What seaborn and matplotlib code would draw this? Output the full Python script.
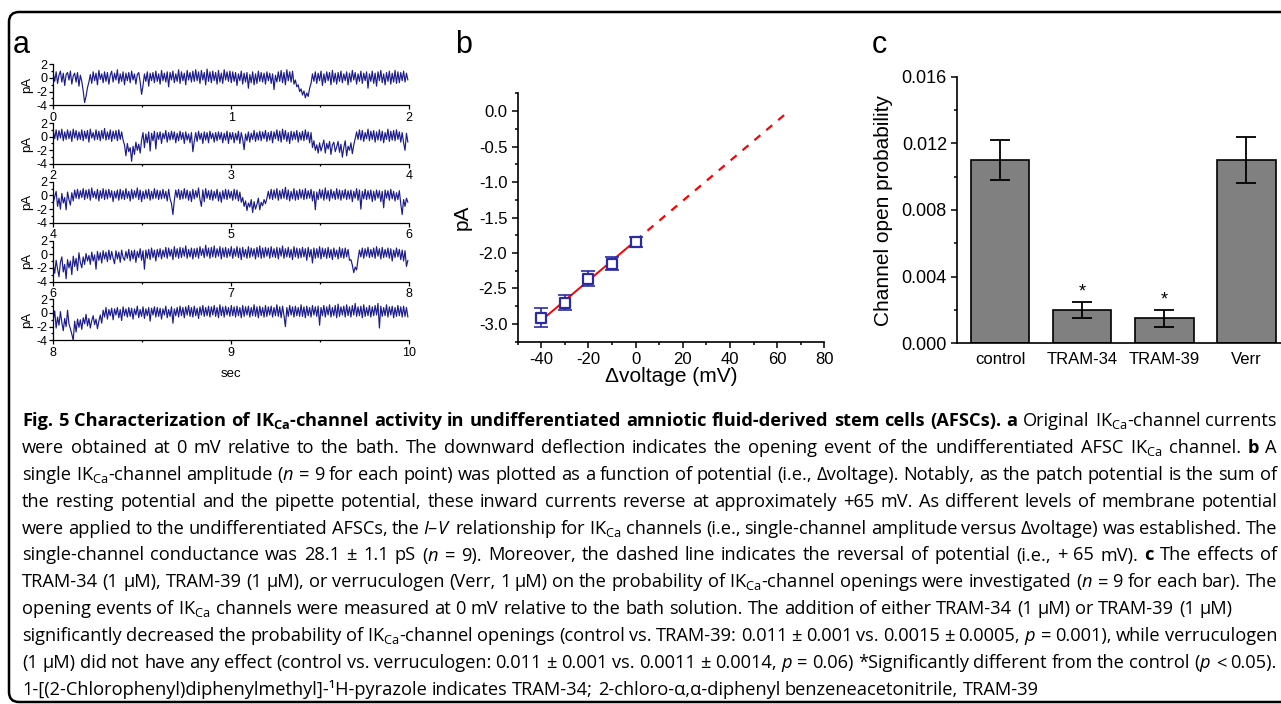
## Fig. 5 - IKCa channel activity in AFSCs (three panels + caption)

import numpy as np
import pandas as pd
import matplotlib
matplotlib.use('Agg')
import matplotlib.pyplot as plt
import seaborn as sns
from matplotlib.patches import FancyBboxPatch
from matplotlib.transforms import IdentityTransform
from matplotlib.ticker import MultipleLocator, FormatStrFormatter

# ---- panel a: single-channel current traces (pA) ----
# each sweep is 2 s long; rows below are 0.2 s of readings each
trace_start = [0, 2, 4, 6, 8]      # sec

trace_1 = [0.6,-0.5,0.9,-0.8,0.4,1.0,-0.6,0.7,-1.1,0.5,0.8,-0.3,1.0,-0.9,0.3,0.7,-0.6,0.8,-1.2,0.4,-0.5,-1.9,-3.6,-2.7,-1.4,
           -0.6,0.5,-0.8,0.9,-0.4,0.7,-1.0,1.1,-0.2,0.6,-0.7,0.9,-0.5,0.8,-0.9,0.4,1.0,-0.6,0.7,-0.3,1.2,-0.8,0.6,-0.5,0.9,
           -1.0,0.7,-0.4,0.8,-0.7,1.0,-0.3,0.6,-0.9,0.5,0.8,-0.6,-2.4,-1.1,0.6,-0.5,0.9,-1.2,0.7,-0.4,0.8,-0.7,1.0,-0.5,0.6,
           -0.9,1.1,-0.4,0.7,-0.6,0.9,-1.3,0.8,-0.3,1.0,-0.7,0.6,-0.5,1.2,-0.8,0.9,-0.4,0.7,-1.0,1.1,-0.3,0.8,-0.6,1.0,-0.5,
           1.2,-0.4,0.9,-0.8,1.1,-0.3,0.8,-1.0,1.3,-0.5,0.9,-0.7,1.0,-0.4,0.8,-0.9,1.1,-0.6,0.7,-0.8,1.2,-0.3,0.9,-0.5,1.0,
           -0.7,0.9,-0.5,0.8,-1.1,0.6,-0.4,1.0,-0.9,0.7,-0.6,0.8,-1.5,0.5,-0.7,0.9,-1.0,0.6,-0.8,1.0,-0.5,0.8,-0.6,0.7,-0.9,
           0.9,-0.4,0.7,-0.8,0.6,-1.7,0.4,-0.6,0.9,-0.5,1.1,-0.7,0.8,-1.0,1.2,-0.4,0.9,-0.6,1.0,-0.9,-0.3,-1.3,-1.0,-2.0,-1.6,
           -2.5,-1.9,-2.9,-2.2,-2.7,-1.5,-0.8,0.6,-0.5,0.9,-0.8,0.7,-0.4,1.0,-1.1,0.6,-0.7,0.9,-0.4,0.8,-1.0,1.1,-0.6,0.7,-0.9,
           0.8,-0.5,1.0,-0.7,0.6,-0.4,0.9,-1.0,0.7,-0.6,1.1,-0.3,0.8,-0.9,0.6,-0.5,1.0,-0.8,0.7,-0.4,0.9,-1.5,0.6,-0.5,1.0,
           -0.8,0.7,-1.2,0.9,-0.4,1.1,-0.7,0.6,-1.0,0.8,-0.5,1.0,-0.9,0.7,-0.6,1.1,-0.8,0.9,-0.7,0.8,-0.4,1.0,-0.6,0.7,-0.3]
trace_2 = [0.8,-0.3,1.0,-0.5,0.9,-0.2,1.1,-0.6,0.7,-0.4,1.0,-0.3,0.8,-0.7,1.1,-0.2,0.9,-0.5,0.7,-0.4,1.0,-0.6,0.8,-0.3,0.9,
           -0.8,1.1,-0.2,0.6,-0.5,1.0,-0.4,0.8,-0.6,0.9,-0.3,1.2,-0.5,0.7,-0.4,1.0,-0.7,0.8,-0.3,0.9,-0.6,1.0,-0.4,0.7,-0.5,
           -1.2,-2.8,-1.0,-2.2,-1.6,-3.6,-1.4,-2.6,-0.8,-2.0,-1.1,-2.4,-0.5,0.6,-1.6,0.4,-0.9,0.7,-2.1,0.5,-0.6,0.8,-1.8,0.6,-0.4,
           0.7,-1.0,0.5,-0.3,0.9,-0.8,0.6,-0.5,0.8,-0.4,0.7,-0.9,0.5,-0.6,0.8,-0.4,0.6,-1.0,0.7,-0.5,0.4,-0.9,0.6,-2.2,-0.7,
           0.6,-0.7,0.8,-0.4,0.5,-1.0,0.7,-0.5,0.6,-0.9,0.8,-0.3,0.5,-0.8,0.6,-0.6,0.7,-0.4,0.6,-0.9,0.5,-0.5,0.8,-1.0,0.6,
           -0.4,0.6,-0.9,0.5,-0.5,0.8,-1.0,0.6,-0.4,-1.9,0.4,-0.6,0.7,-0.8,0.5,-0.4,0.9,-0.7,0.6,-0.5,0.8,-0.6,0.7,-0.3,0.9,
           -0.7,0.6,-0.5,0.8,-0.9,0.7,-0.3,1.0,-0.6,0.8,-0.8,1.1,-0.4,0.9,-0.7,0.6,-1.0,0.8,-0.5,0.7,-0.4,0.9,-0.8,0.6,-0.5,
           0.8,-0.6,1.0,-0.4,0.7,-0.9,0.6,-1.6,-0.6,-2.0,-1.2,-2.4,-0.9,-2.1,-1.3,-0.5,-2.4,-1.0,-1.8,-0.7,-2.6,-1.2,-0.8,-2.2,-1.5,
           -0.7,-2.3,-1.1,-3.0,-1.6,-0.6,-2.8,-1.4,-2.0,-0.9,-2.5,-1.2,-0.3,0.7,-0.4,1.0,-0.5,0.9,-0.7,0.6,-0.3,1.1,-0.6,0.8,-0.4,
           0.9,-0.8,0.7,-0.5,1.0,-0.6,0.8,-0.9,0.6,-0.4,1.1,-0.7,0.8,-0.5,0.9,-0.6,1.0,-0.4,0.7,-0.8,0.6,-0.9,-2.0,0.5,-0.8]
trace_3 = [-1.0,-0.2,0.6,-1.6,-0.4,-2.0,0.3,-1.1,-0.3,-2.1,0.5,-0.6,-1.4,0.4,-0.8,0.8,-0.4,0.9,-0.5,0.7,-0.3,1.0,-0.6,0.8,-0.4,
           0.9,-0.7,1.1,-0.3,0.6,-0.5,0.9,-0.8,0.7,-0.4,1.0,-0.6,0.8,-0.5,0.9,-0.3,0.7,-0.9,0.6,-0.4,0.8,-0.7,0.9,-0.5,0.7,
           -0.6,1.0,-0.4,0.6,-0.8,0.9,-0.5,0.7,-0.3,1.1,-0.6,0.8,-0.9,0.6,-0.5,0.8,-0.4,0.9,-0.7,0.6,-0.5,1.0,-0.4,0.8,-0.6,
           0.7,-0.5,0.9,-0.4,0.6,-0.8,0.9,-0.5,-1.2,-2.8,-0.7,0.8,-0.3,0.9,-0.6,0.7,-0.5,1.0,-0.4,0.8,-0.7,0.6,-0.9,0.9,-0.5,
           0.7,-0.3,1.1,-0.6,-1.6,0.8,-0.9,1.0,-0.4,0.7,-0.6,0.8,-0.7,0.6,-0.4,0.9,-0.8,0.5,-1.0,0.7,-0.5,0.9,-0.6,0.8,-0.4,
           0.6,-0.7,0.9,-0.5,0.8,-0.8,0.5,-1.0,-0.3,-1.6,-0.8,-2.2,-1.1,-1.7,-0.6,-2.5,-0.9,-2.0,-1.3,-0.4,-2.1,-1.0,-1.5,-0.6,-1.2,
           -0.4,0.6,-0.5,0.9,-0.6,0.8,-0.4,1.0,-0.7,0.7,-0.5,0.9,-0.4,1.2,-0.6,0.8,-0.8,0.6,-0.5,1.0,-0.7,0.7,-0.6,0.9,-0.4,
           0.8,-0.6,1.0,-0.5,0.7,-0.4,0.9,-0.8,0.6,-2.1,0.5,-0.6,0.9,-0.4,0.8,-0.7,1.1,-0.5,0.7,-0.8,0.9,-0.4,0.6,-0.6,1.0,
           -0.5,0.8,-0.7,0.7,-0.4,0.9,-0.6,0.7,-0.5,0.8,-0.9,0.6,-0.4,1.0,-0.7,0.8,-2.0,0.6,-0.5,0.9,-0.6,0.7,-0.5,0.8,-0.9,
           0.6,-0.7,0.8,-0.4,0.7,-0.9,0.6,-1.8,0.8,-0.4,0.7,-0.7,0.9,-0.5,0.6,-0.8,0.4,-0.6,0.7,-1.2,-2.8,-0.6,-1.6,-0.4,-1.0]
trace_4 = [-1.6,-2.8,-0.9,-2.2,-3.3,-1.2,-0.4,-2.6,-1.5,-3.6,-0.8,-2.0,-1.0,-3.0,-0.3,-1.8,-0.6,-2.4,0.2,-1.2,-2.0,-0.4,-1.5,0.1,-1.0,
           -0.2,-1.5,0.3,-1.0,-0.1,-2.2,0.4,-0.9,0.2,-1.3,0.5,-0.7,0.3,-1.1,0.6,-0.8,0.4,-0.6,-1.4,0.5,-0.7,0.3,-1.2,0.6,-0.5,
           -0.9,0.4,-0.6,0.7,-1.0,0.5,-0.7,0.6,-1.2,0.4,-0.5,0.8,-0.9,0.5,-2.2,0.6,-0.6,0.7,-0.8,0.9,-0.5,0.6,-1.0,0.7,-0.4,
           0.8,-0.7,0.6,-0.4,1.0,-0.6,0.9,-0.3,0.7,-0.8,1.1,-0.4,0.8,-0.6,1.0,-0.5,0.9,-0.3,1.2,-0.6,0.7,-0.4,0.9,-0.7,0.8,
           -0.4,0.9,-0.6,1.1,-0.2,0.8,-0.5,1.3,-0.3,0.9,-0.6,1.0,-0.4,1.2,-0.5,0.8,-0.3,1.1,-0.7,0.9,-0.4,1.0,-0.5,0.8,-0.3,
           1.1,-0.6,0.8,-0.3,1.1,-0.5,0.9,-0.8,1.0,-0.4,0.7,-0.6,1.1,-0.5,0.9,-0.3,0.8,-0.7,1.0,-0.4,1.2,-0.6,0.9,-0.5,1.0,
           -0.3,0.9,-0.6,1.1,-0.4,0.8,-0.5,1.0,-0.7,0.9,-0.3,1.2,-0.6,0.8,-0.4,1.0,-0.5,0.7,-0.8,1.1,-0.4,0.9,-0.6,0.8,-0.5,
           1.0,-0.4,0.8,-0.9,1.0,-0.4,0.7,-1.3,0.9,-0.6,0.8,-0.5,1.1,-0.7,0.9,-0.4,0.8,-0.6,1.0,-0.5,0.7,-0.8,0.9,-0.4,0.6,
           -0.7,1.0,-0.5,0.8,-0.6,0.9,-0.4,0.7,-0.9,-0.8,-1.6,-2.7,-1.9,-2.3,-0.7,0.6,-0.4,0.9,-0.6,0.8,-0.3,1.0,-0.5,0.7,-0.4,
           0.9,-0.6,1.1,-0.3,0.8,-0.7,1.0,-0.5,0.7,-0.4,0.9,-0.6,0.8,-1.0,0.6,-0.5,0.9,-0.4,0.7,-0.8,0.6,-1.0,0.5,-1.8,-0.9]
trace_5 = [-1.0,0.3,-2.2,-0.6,-1.8,0.2,-1.4,-2.6,-0.8,-2.0,0.4,-1.6,-2.3,-3.1,-4.0,-1.2,-2.8,-0.9,-2.1,-1.0,-2.4,-0.7,-1.6,-0.2,-1.9,
           -0.8,-2.2,-1.1,-0.4,-1.7,-0.9,-2.3,-1.2,-0.3,-1.5,0.4,-0.6,0.8,-0.9,0.5,-0.4,0.7,-1.0,0.6,-0.3,0.8,-0.7,0.5,-1.1,0.9,
           -0.4,0.6,-0.6,0.8,-0.5,0.7,-0.9,0.6,-0.3,1.0,-0.7,0.5,-0.5,0.9,-0.8,0.6,-0.4,0.8,-1.2,0.7,-0.3,0.9,-0.6,0.8,-0.5,
           0.7,-0.9,0.6,-0.3,1.0,-0.7,0.5,-0.5,0.9,-1.5,0.6,-0.4,0.8,-0.6,1.0,-0.4,0.8,-0.7,0.9,-0.3,1.1,-0.5,0.8,-0.6,1.0,
           -0.4,0.7,-0.8,0.9,-0.3,1.1,-0.5,0.8,-0.4,1.0,-0.6,0.9,-0.3,1.1,-0.5,0.8,-0.7,1.2,-0.4,0.9,-0.6,1.0,-0.3,0.8,-0.5,
           1.1,-0.4,0.9,-0.6,1.0,-0.4,0.8,-0.7,1.1,-0.5,0.9,-0.3,1.0,-0.6,0.8,-0.4,1.2,-0.5,0.9,-0.7,1.0,-0.4,0.8,-0.6,1.1,
           -0.5,0.9,-0.3,1.0,-0.6,0.8,-0.4,1.2,-0.5,0.9,-0.7,1.0,-0.4,-2.0,0.8,-0.5,1.1,-0.3,0.9,-0.6,1.0,-0.4,0.8,-0.5,1.2,
           -0.5,0.9,-0.7,1.0,-0.4,0.8,-0.6,1.1,-0.3,0.9,-0.5,1.0,-1.8,0.8,-0.4,1.1,-0.6,0.9,-0.3,1.2,-0.6,0.8,-0.4,1.1,-0.7,
           1.3,-0.5,0.9,-0.3,1.0,-0.6,1.2,-0.4,0.9,-0.6,1.1,-0.3,1.4,-0.5,0.9,-0.4,1.0,-0.7,1.2,-0.5,0.8,-0.4,1.1,-0.6,0.9,
           -0.4,1.1,-0.3,1.4,-2.2,1.0,-0.5,0.8,-0.4,1.2,-0.6,0.9,-0.3,1.0,-0.7,0.8,-0.5,1.1,-0.4,0.9,-0.6,1.0,-0.5,0.8,-0.6]
traces = [trace_1, trace_2, trace_3, trace_4, trace_5]

# ---- panel b: I-V relation ----
dvoltage = [-40, -30, -20, -10, 0]                 # mV
amplitude = [-2.91, -2.70, -2.36, -2.15, -1.85]    # pA
amplitude_err = [0.13, 0.11, 0.11, 0.09, 0.07]
conductance_pS = 28.1
reversal_mV = 65

# ---- panel c: open probability ----
conditions = ['control', 'TRAM-34', 'TRAM-39', 'Verr']
open_prob = [0.011, 0.0020, 0.0015, 0.011]
open_prob_err = [0.0012, 0.0005, 0.0005, 0.0014]
significant = [False, True, True, False]

# ---- caption, one entry per printed line; '@' marks bold words ----
caption_lines = [
    r"@Fig. @5 @Characterization @of @IK$_{\mathbf{Ca}}$-channel @activity @in @undifferentiated @amniotic @fluid-derived @stem @cells @(AFSCs). @a Original IK$_{\mathrm{Ca}}$-channel currents",
    r"were obtained at 0 mV relative to the bath. The downward deflection indicates the opening event of the undifferentiated AFSC IK$_{\mathrm{Ca}}$ channel. @b A",
    r"single IK$_{\mathrm{Ca}}$-channel amplitude ($n$ = 9 for each point) was plotted as a function of potential (i.e., Δvoltage). Notably, as the patch potential is the sum of",
    r"the resting potential and the pipette potential, these inward currents reverse at approximately +65 mV. As different levels of membrane potential",
    r"were applied to the undifferentiated AFSCs, the $I$–$V$ relationship for IK$_{\mathrm{Ca}}$ channels (i.e., single-channel amplitude versus Δvoltage) was established. The",
    r"single-channel conductance was 28.1 ± 1.1 pS ($n$ = 9). Moreover, the dashed line indicates the reversal of potential (i.e., + 65 mV). @c The effects of",
    r"TRAM-34 (1 μM), TRAM-39 (1 μM), or verruculogen (Verr, 1 μM) on the probability of IK$_{\mathrm{Ca}}$-channel openings were investigated ($n$ = 9 for each bar). The",
    r"opening events of IK$_{\mathrm{Ca}}$ channels were measured at 0 mV relative to the bath solution. The addition of either TRAM-34 (1 μM) or TRAM-39 (1 μM)",
    r"significantly decreased the probability of IK$_{\mathrm{Ca}}$-channel openings (control vs. TRAM-39: 0.011 ± 0.001 vs. 0.0015 ± 0.0005, $p$ = 0.001), while verruculogen",
    r"(1 μM) did not have any effect (control vs. verruculogen: 0.011 ± 0.001 vs. 0.0011 ± 0.0014, $p$ = 0.06) *Significantly different from the control ($p$ < 0.05).",
    r"1-[(2-Chlorophenyl)diphenylmethyl]-¹H-pyrazole indicates TRAM-34; 2-chloro-α,α-diphenyl benzeneacetonitrile, TRAM-39",
]
caption_justified = [True, True, True, True, True, True, True, False, True, True, False]

# ---- style ----
sns.set_theme(style='ticks')
plt.rcParams['font.family'] = ['Liberation Sans', 'DejaVu Sans']
plt.rcParams['axes.unicode_minus'] = False
plt.rcParams['axes.edgecolor'] = 'black'
plt.rcParams['text.color'] = 'black'
plt.rcParams['axes.labelcolor'] = 'black'
plt.rcParams['xtick.color'] = 'black'
plt.rcParams['ytick.color'] = 'black'
plt.rcParams['mathtext.fontset'] = 'custom'
plt.rcParams['mathtext.rm'] = 'Open Sans'
plt.rcParams['mathtext.it'] = 'Open Sans:italic'
plt.rcParams['mathtext.bf'] = 'Open Sans:bold'

W, H = 1281, 704
fig = plt.figure(figsize=(W / 100, H / 100), dpi=100)


def px_axes(left, top, right, bottom):
    return fig.add_axes([left / W, 1 - bottom / H, (right - left) / W, (bottom - top) / H])


trace_color = '#1c1c8c'
blue = '#2b2ba6'

# panel a
trace_tops = [64.3, 123.0, 181.8, 240.5, 299.3]
for k, (start, vals) in enumerate(zip(trace_start, traces)):
    ax = px_axes(53.3, trace_tops[k], 409.3, trace_tops[k] + 41)
    t = start + np.arange(len(vals)) * (2.0 / len(vals))
    sns.lineplot(x=t, y=vals, ax=ax, color=trace_color, linewidth=0.85, estimator=None)
    ax.set_xlim(start, start + 2)
    ax.set_ylim(-4, 2)
    ax.set_xticks([start, start + 1, start + 2])
    ax.set_xticklabels([str(start), str(start + 1), str(start + 2)])
    ax.xaxis.set_minor_locator(MultipleLocator(0.5))
    ax.set_yticks([-4, -2, 0, 2])
    ax.yaxis.set_minor_locator(MultipleLocator(1))
    ax.tick_params(which='both', direction='out', labelsize=9, width=0.9, pad=1.5)
    ax.tick_params(which='major', length=3)
    ax.tick_params(which='minor', length=1.5)
    for s in ['top', 'right']:
        ax.spines[s].set_visible(False)
    for s in ['left', 'bottom']:
        ax.spines[s].set_linewidth(0.9)
    ax.set_ylabel('pA', fontsize=9.5, labelpad=2)
    ax.set_xlabel('sec' if k == 4 else '', fontsize=9.5, labelpad=7)

# panel b
axb = px_axes(517.7, 93.3, 824.3, 341.7)
g = conductance_pS / 1000.0
solid_x = [dvoltage[0], 0]
dash_x = [0, reversal_mV]
sns.lineplot(x=solid_x, y=[g * (v - reversal_mV) for v in solid_x], ax=axb,
             color='red', linewidth=1.4, zorder=1)
sns.lineplot(x=dash_x, y=[g * (v - reversal_mV) for v in dash_x], ax=axb,
             color='red', linewidth=1.6, zorder=1)
axb.lines[-1].set_dashes([3.5, 3.5])
axb.errorbar(dvoltage, amplitude, yerr=amplitude_err, fmt='none', ecolor=blue,
             elinewidth=1.2, capsize=5, capthick=1.2, zorder=2)
sns.scatterplot(x=dvoltage, y=amplitude, ax=axb, marker='s', s=55, facecolor='white',
                edgecolor=blue, linewidth=1.6, zorder=3)
axb.set_xlim(-50, 80)
axb.set_ylim(-3.25, 0.25)
axb.xaxis.set_major_locator(MultipleLocator(20))
axb.xaxis.set_minor_locator(MultipleLocator(10))
axb.yaxis.set_major_locator(MultipleLocator(0.5))
axb.yaxis.set_minor_locator(MultipleLocator(0.25))
axb.yaxis.set_major_formatter(FormatStrFormatter('%.1f'))
axb.tick_params(which='both', direction='out', labelsize=12, width=1.1)
axb.tick_params(which='major', length=4)
axb.tick_params(which='minor', length=2)
for s in ['top', 'right']:
    axb.spines[s].set_visible(False)
for s in ['left', 'bottom']:
    axb.spines[s].set_linewidth(1.2)
axb.set_xlabel('Δvoltage (mV)', fontsize=15, labelpad=0)
axb.set_ylabel('pA', fontsize=15, labelpad=5)

# panel c
axc = px_axes(957.3, 76.7, 1281, 343.3)
bars = pd.DataFrame({'condition': conditions, 'open_prob': open_prob})
sns.barplot(data=bars, x='condition', y='open_prob', ax=axc, color='#808080', saturation=1,
            edgecolor='black', linewidth=1.2, width=0.71, errorbar=None)
axc.errorbar(range(len(conditions)), open_prob, yerr=open_prob_err, fmt='none', ecolor='black',
             elinewidth=1.3, capsize=7, capthick=1.3)
for i, (p, e, sig) in enumerate(zip(open_prob, open_prob_err, significant)):
    if sig:
        axc.text(i, p + e + 0.0003, '*', ha='center', va='baseline', fontsize=13)
axc.set_xlim(-0.52, 3.42)
axc.set_ylim(0, 0.016)
axc.yaxis.set_major_locator(MultipleLocator(0.004))
axc.yaxis.set_minor_locator(MultipleLocator(0.002))
axc.yaxis.set_major_formatter(FormatStrFormatter('%.3f'))
axc.tick_params(axis='y', which='both', direction='out', labelsize=13, width=1.1)
axc.tick_params(axis='y', which='major', length=4)
axc.tick_params(axis='y', which='minor', length=2)
axc.tick_params(axis='x', length=0, labelsize=12, pad=6)
for s in ['top', 'right']:
    axc.spines[s].set_visible(False)
for s in ['left', 'bottom']:
    axc.spines[s].set_linewidth(1.2)
axc.set_xlabel('')
axc.set_ylabel('Channel open probability', fontsize=15, labelpad=6)

# panel letters
for letter, x in [('a', 13), ('b', 455), ('c', 872)]:
    fig.text(x / W, 1 - 53 / H, letter, fontsize=22, va='baseline')

# frame round the figure (runs off right edge)
frame = FancyBboxPatch((9, 2), 1400, 690, boxstyle='round,pad=0,rounding_size=10',
                       transform=IdentityTransform(), fill=False, edgecolor='black', linewidth=1.8)
fig.add_artist(frame)

# caption, justified word by word
cap_left, cap_right = 22, 1277
cap_base0, cap_step = 426, 26.9
cap_size = 13.3

line_words = []
for i, line in enumerate(caption_lines):
    arts = []
    for w in line.split(' '):
        bold = w.startswith('@')
        arts.append(fig.text(0, 0, w.lstrip('@'), transform=IdentityTransform(),
                             fontsize=cap_size, family=['Open Sans', 'DejaVu Sans'],
                             fontweight='bold' if bold else 'normal', va='baseline'))
    line_words.append(arts)

fig.canvas.draw()
renderer = fig.canvas.get_renderer()
space = 0.26 * cap_size * 100 / 72
avail = cap_right - cap_left
ratio = 1.0
for arts, just in zip(line_words, caption_justified):
    widths = [a.get_window_extent(renderer).width for a in arts]
    natural = sum(widths) + space * 0.75 * (len(arts) - 1)
    ratio = max(ratio, natural / avail)
if ratio > 1:
    for arts in line_words:
        for a in arts:
            a.set_fontsize(cap_size / ratio)
    space = space / ratio
    fig.canvas.draw()

for i, (arts, just) in enumerate(zip(line_words, caption_justified)):
    widths = [a.get_window_extent(renderer).width for a in arts]
    gap = (avail - sum(widths)) / (len(arts) - 1) if just else space
    x = cap_left
    y = H - (cap_base0 + i * cap_step)
    for a, w in zip(arts, widths):
        a.set_position((x, y))
        x += w + gap

fig.savefig('out.png', dpi=100)
